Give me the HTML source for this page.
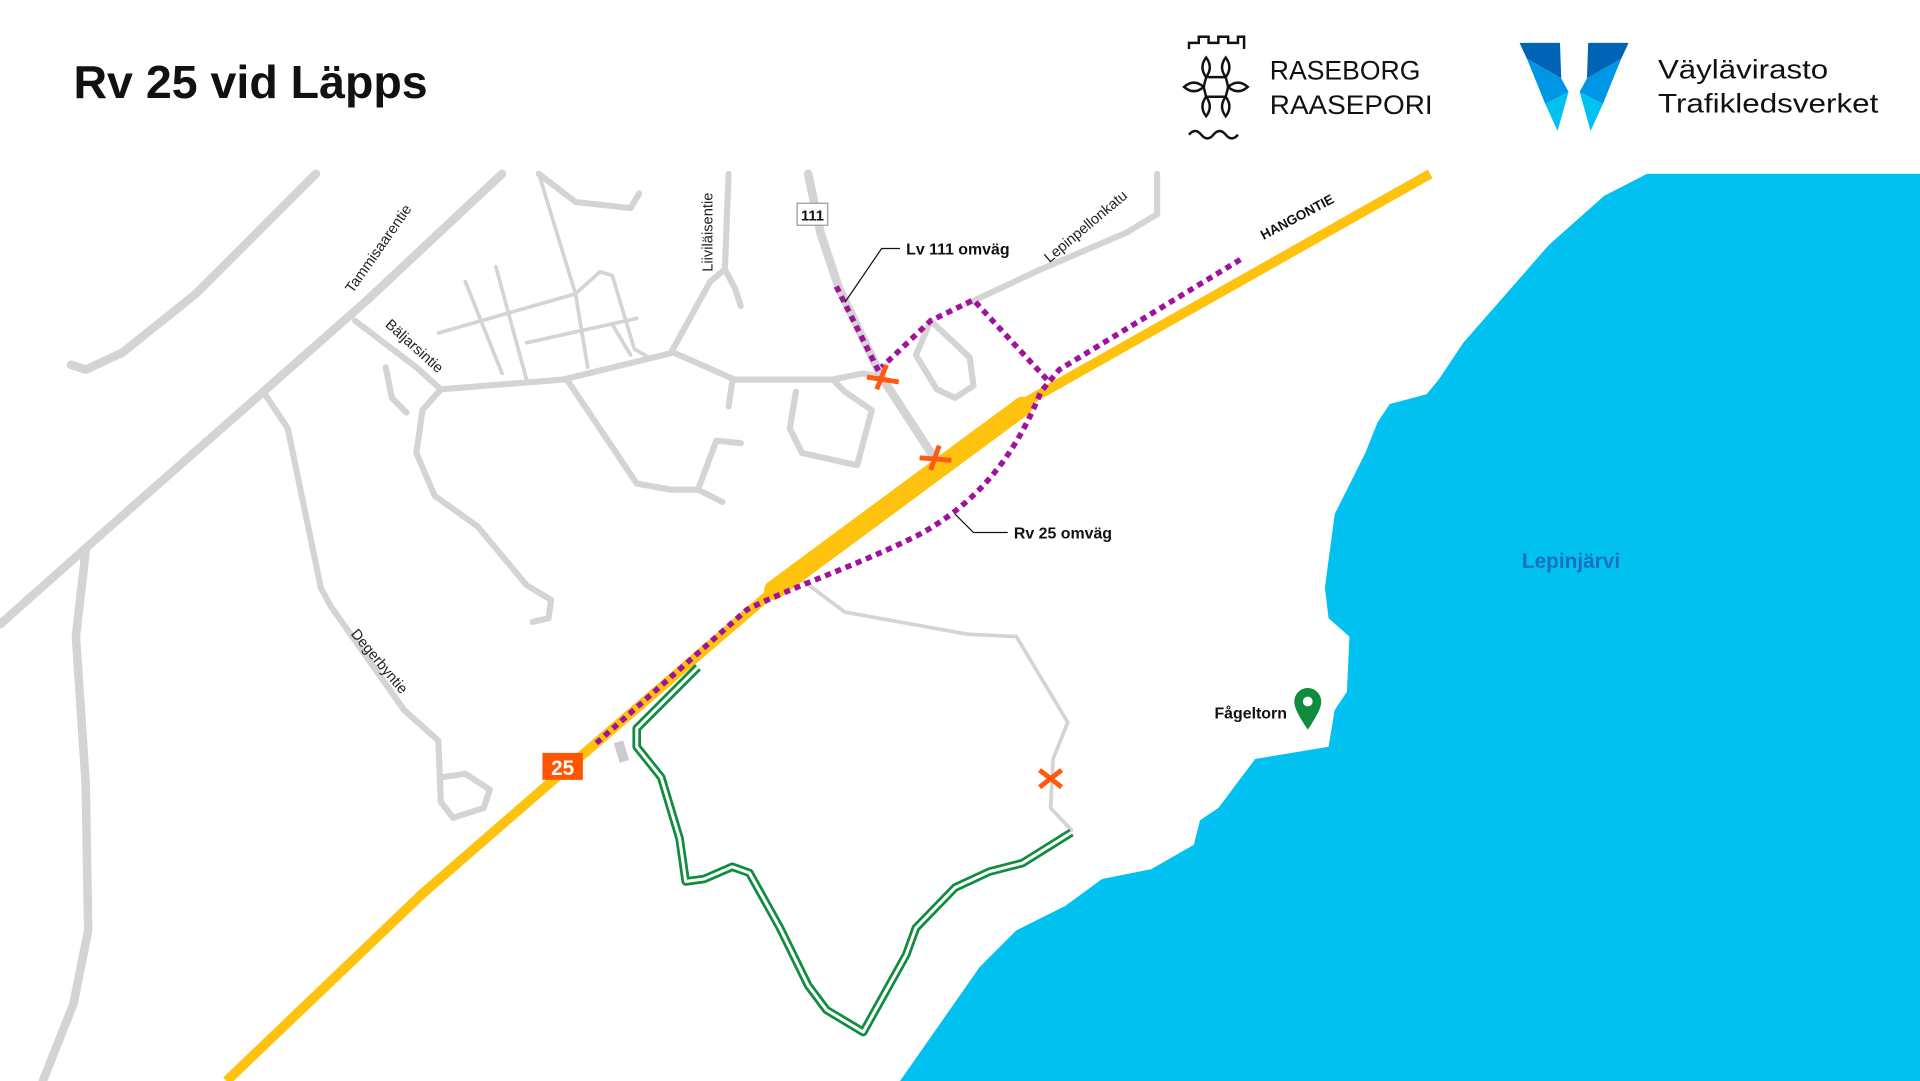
<!DOCTYPE html>
<html><head><meta charset="utf-8"><style>
html,body{margin:0;padding:0;background:#fff;}
svg{display:block;}
text{font-family:"Liberation Sans","DejaVu Sans",sans-serif;}
</style></head><body>
<svg width="1920" height="1081" viewBox="0 0 1568 883" preserveAspectRatio="none" xmlns="http://www.w3.org/2000/svg">
<rect width="1568" height="883" fill="#fff"/>
<!-- lake -->
<path d="M735,883 L800,790 L830,760 L870,740 L900,718 L940,710 L975,690 L980,670 L995,660 L1025,620 L1085,610 L1090,580 L1100,565 L1102,520 L1085,505 L1082,480 L1090,420 L1100,400 L1115,370 L1125,345 L1135,330 L1165,322 L1175,310 L1195,280 L1230,240 L1265,200 L1310,160 L1345,142 L1568,142 L1568,883 Z" fill="#00c1f0"/>
<text x="1283" y="464" font-size="17" font-weight="bold" fill="#1a6fc0" text-anchor="middle">Lepinjärvi</text>
<!-- gray roads -->
<g fill="none" stroke="#d4d4d4" stroke-width="7" stroke-linejoin="round" stroke-linecap="round">
<path d="M0,510 L90,430 L215,320 L300,245 L410,142"/>
<path d="M58,298 L70,302 L100,288 L160,240 L258,142"/>
<path d="M70,450 L62,520 L70,640 L72,760 L60,820 L35,883"/>
<path d="M660,142 L670,190 L685,235 L720,308 L763,374"/>
</g>
<g fill="none" stroke="#d4d4d4" stroke-width="5" stroke-linejoin="round" stroke-linecap="round">
<path d="M215,320 L235,350 L262,480 L270,495 L330,580 L358,605 L360,655 L370,668 L395,660 L400,645 L380,632 L360,635"/>
<path d="M290,262 L340,300 L360,318 L345,335 L340,370 L355,405 L390,430 L430,478 L450,490 L448,505 L435,508"/>
<path d="M315,300 L320,325 L332,337"/>
<path d="M360,318 L460,310 L550,288 L600,310 L680,310 L705,305 L720,308"/>
<path d="M463,310 L520,395 L548,400 L570,400 L590,410 M570,400 L585,360 L605,362"/>
<path d="M595,142 L592,220 L580,230 L548,288 M592,220 L600,235 L605,250"/>
<path d="M440,142 L470,165 L515,170 L522,158"/>
<path d="M650,320 L645,350 L655,370 L700,380 L712,335 L690,320 L682,312"/>
<path d="M760,262 L748,290 L765,318 L780,325 L795,315 L792,292 L760,262"/>
<path d="M790,248 L850,220 L920,190 L945,175 L945,142"/>
<path d="M598,312 L595,332"/>
</g>
<g fill="none" stroke="#d4d4d4" stroke-width="3" stroke-linejoin="round" stroke-linecap="round">
<path d="M405,218 L430,310 M380,230 L410,305 M440,142 L470,240 L490,222 L500,225 L518,285 L530,292 L548,288 M358,272 L470,240 M430,280 L520,260 M470,240 L480,300 M500,265 L515,290"/>
<path d="M650,470 L690,500 L790,518 L830,520 L872,590 L860,620 L858,660 L875,678"/>
</g>
<path d="M505,606 L510,622" stroke="#ccc" stroke-width="8"/>
<!-- highway -->
<path d="M185,883 L345,730 L460,630 L630,484 L835,330 L1168,142" fill="none" stroke="#ffc20e" stroke-width="8" stroke-linejoin="round"/>
<path d="M632,482 L835,332" stroke="#ffc20e" stroke-width="16" stroke-linecap="round"/>
<!-- purple detours -->
<g fill="none" stroke="#a0129e" stroke-width="4.5" stroke-dasharray="5,4">
<path d="M487,607 L610,498 C650,478 700,462 750,437 C800,410 830,370 850,320 L865,302 L1013,212"/>
<path d="M855,310 L795,245 L760,262 L720,300"/>
<path d="M683,234 L720,308"/>
</g>
<!-- green trail -->
<path d="M570,545 L520,595 L520,610 L540,635 L555,685 L560,720 L575,718 L598,708 L612,713 L637,758 L660,805 L675,825 L705,843 L740,780 L748,758 L780,725 L808,712 L835,705 L875,680" fill="none" stroke="#0f8c3e" stroke-width="7" stroke-linejoin="round"/>
<path d="M570,545 L520,595 L520,610 L540,635 L555,685 L560,720 L575,718 L598,708 L612,713 L637,758 L660,805 L675,825 L705,843 L740,780 L748,758 L780,725 L808,712 L835,705 L875,680" fill="none" stroke="#fff" stroke-width="2.5" stroke-linejoin="round"/>
<!-- crosses -->
<g stroke="#ff5a10" stroke-width="4">
<path d="M708,308 L734,312 M724,298 L716,318"/>
<path d="M751,374 L777,376 M767,364 L760,384"/>
<path d="M849,629 L867,643 M867,629 L849,643"/>
</g>
<!-- shields -->
<rect x="443" y="615" width="33" height="22" fill="#ff5500"/>
<text x="459.5" y="633" font-size="17" font-weight="bold" fill="#fff" text-anchor="middle">25</text>
<rect x="651" y="166" width="25" height="18" fill="#fff" stroke="#999" stroke-width="1"/>
<text x="663.5" y="180" font-size="12" font-weight="bold" fill="#111" text-anchor="middle">111</text>
<!-- leader lines -->
<path d="M690,247 L720,203 L735,203" fill="none" stroke="#111" stroke-width="1"/>
<text x="740" y="208" font-size="13" font-weight="bold" fill="#111">Lv 111 omväg</text>
<path d="M780,420 L795,435 L823,435" fill="none" stroke="#111" stroke-width="1"/>
<text x="828" y="440" font-size="13" font-weight="bold" fill="#111">Rv 25 omväg</text>
<!-- road labels -->
<g font-size="12" fill="#222">
<text transform="translate(288,240) rotate(-55)">Tammisaarentie</text>
<text transform="translate(314,266) rotate(42)">Bäljarsintie</text>
<text transform="translate(286,518) rotate(50)">Degerbyntie</text>
<text transform="translate(582,222) rotate(-90)">Liiviläisentie</text>
<text transform="translate(857,215) rotate(-40)">Lepinpellonkatu</text>
</g>
<text transform="translate(1032,196) rotate(-28)" font-size="11" font-weight="bold" fill="#111">HANGONTIE</text>
<!-- pin -->
<path d="M1068,596 C1060,584 1057,578 1057,573 A11,11 0 0 1 1079,573 C1079,578 1076,584 1068,596 Z" fill="#0f8c3e"/>
<circle cx="1068" cy="573" r="4" fill="#fff"/>
<text x="1051" y="587" font-size="13" font-weight="bold" fill="#111" text-anchor="end">Fågeltorn</text>
<!-- header -->
<text x="60" y="80" font-size="38" font-weight="bold" fill="#111">Rv 25 vid Läpps</text>
<!-- Raseborg logo -->
<path d="M971,40 L971,35 L979,35 L979,30 L987,30 L987,35 L995,35 L995,30 L1003,30 L1003,35 L1011,35 L1011,30 L1016,30 L1016,40" fill="none" stroke="#111" stroke-width="2"/>
<g fill="none" stroke="#111" stroke-width="2">
<path d="M985,47 q-6,8 0,16 q6,-8 0,-16 Z"/><path d="M1001,47 q-6,8 0,16 q6,-8 0,-16 Z"/>
<path d="M985,79 q-6,8 0,16 q6,-8 0,-16 Z"/><path d="M1001,79 q-6,8 0,16 q6,-8 0,-16 Z"/>
<path d="M967,71 q8,-7 16,0 q-8,7 -16,0 Z"/><path d="M1003,71 q8,-7 16,0 q-8,7 -16,0 Z"/>
<path d="M985,63 L1001,63 L1003,71 L1001,79 L985,79 L983,71 Z"/>
<path d="M971,110 q5,-6 10,0 t10,0 t10,0 t10,0"/>
</g>
<text x="1037" y="65" font-size="22" fill="#111" textLength="123" lengthAdjust="spacingAndGlyphs">RASEBORG</text>
<text x="1037" y="93" font-size="22" fill="#111" textLength="133" lengthAdjust="spacingAndGlyphs">RAASEPORI</text>
<!-- Väylävirasto logo -->
<polygon points="1241,35 1274,35 1275,64 1247,48" fill="#0064b4"/>
<polygon points="1247,48 1275,64 1281,75 1262,85" fill="#0096e6"/>
<polygon points="1262,85 1281,75 1272,107" fill="#00c1f0"/>
<polygon points="1330,35 1297,35 1296,64 1324,48" fill="#0064b4"/>
<polygon points="1324,48 1296,64 1290,75 1309,85" fill="#0096e6"/>
<polygon points="1309,85 1290,75 1299,107" fill="#00c1f0"/>
<text x="1354" y="64" font-size="22" fill="#111" textLength="139" lengthAdjust="spacingAndGlyphs">Väylävirasto</text>
<text x="1354" y="92" font-size="22" fill="#111" textLength="180" lengthAdjust="spacingAndGlyphs">Trafikledsverket</text>
</svg>
</body></html>
